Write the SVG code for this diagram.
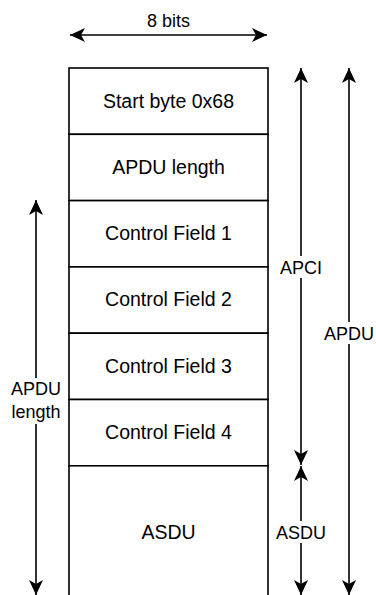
<svg xmlns="http://www.w3.org/2000/svg" width="376" height="595" viewBox="0 0 376 595">
<style>
.box{fill:#fff;stroke:#000;stroke-width:1.6}
.t{font-family:"Liberation Sans",Arial,sans-serif;font-size:19.5px;fill:#000;text-anchor:middle}
.l{font-family:"Liberation Sans",Arial,sans-serif;font-size:18px;fill:#000;text-anchor:middle}
.c{fill:none;stroke:#000;stroke-width:1.6}
.bg{fill:#fff}
</style>
<defs>
<marker id="ah" markerUnits="userSpaceOnUse" viewBox="0 0 15 14" refX="15" refY="7" markerWidth="15" markerHeight="14" orient="auto-start-reverse">
<path d="M15,7 L0,0 L4,7 L0,14 Z" fill="#000"/>
</marker>
</defs>
<rect width="376" height="595" fill="#fff"/>
<g id="row1"><rect class="box" x="69" y="68" width="199" height="66.3"/><text class="t" x="168.5" y="107.5">Start byte 0x68</text></g>
<g id="row2"><rect class="box" x="69" y="134.3" width="199" height="66.3"/><text class="t" x="168.5" y="173.5">APDU length</text></g>
<g id="row3"><rect class="box" x="69" y="200.6" width="199" height="66.3"/><text class="t" x="168.5" y="240">Control Field 1</text></g>
<g id="row4"><rect class="box" x="69" y="266.9" width="199" height="66.3"/><text class="t" x="168.5" y="306.3">Control Field 2</text></g>
<g id="row5"><rect class="box" x="69" y="333.2" width="199" height="66.3"/><text class="t" x="168.5" y="372.5">Control Field 3</text></g>
<g id="row6"><rect class="box" x="69" y="399.5" width="199" height="66.3"/><text class="t" x="168.5" y="438.8">Control Field 4</text></g>
<g id="row7"><rect class="box" x="69" y="465.8" width="199" height="140"/><text class="t" x="168.5" y="538.5">ASDU</text></g>
<g id="connectors">
<line class="c" x1="70" y1="35" x2="267" y2="35" marker-start="url(#ah)" marker-end="url(#ah)"/>
<text class="l" x="168.5" y="26.5">8 bits</text>
<line class="c" x1="301" y1="68" x2="301" y2="465" marker-start="url(#ah)" marker-end="url(#ah)"/>
<rect class="bg" x="279" y="256" width="44" height="22"/>
<text class="l" x="301" y="274">APCI</text>
<line class="c" x1="301" y1="466" x2="301" y2="595" marker-start="url(#ah)" marker-end="url(#ah)"/>
<rect class="bg" x="276" y="521" width="50" height="22"/>
<text class="l" x="301" y="538.5">ASDU</text>
<line class="c" x1="349" y1="68" x2="349" y2="595" marker-start="url(#ah)" marker-end="url(#ah)"/>
<rect class="bg" x="324" y="322" width="50" height="22"/>
<text class="l" x="349" y="339.5">APDU</text>
<line class="c" x1="36" y1="200" x2="36" y2="595" marker-start="url(#ah)" marker-end="url(#ah)"/>
<rect class="bg" x="10" y="378" width="52" height="46"/>
<text class="l" x="36" y="395">APDU</text>
<text class="l" x="36" y="418">length</text>
</g>
</svg>
